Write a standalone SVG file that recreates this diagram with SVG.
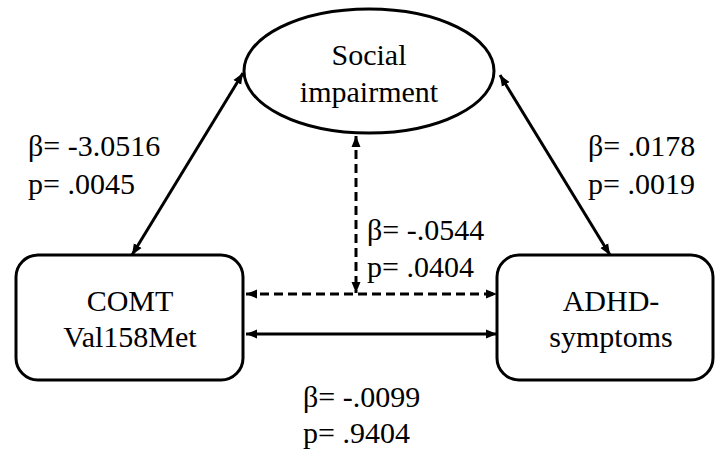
<svg xmlns="http://www.w3.org/2000/svg" width="716" height="454" viewBox="0 0 716 454">
<defs>
<marker id="ah" markerUnits="userSpaceOnUse" markerWidth="12" markerHeight="10" refX="11" refY="5" orient="auto-start-reverse">
<path d="M0,0.5 L11,5 L0,9.5 z" fill="#000"/>
</marker>
</defs>
<rect width="716" height="454" fill="#fff"/>
<g id="connectors" fill="none" stroke="#000" stroke-width="3">
<line x1="132" y1="255" x2="243" y2="73" marker-start="url(#ah)" marker-end="url(#ah)"/>
<line x1="610" y1="255" x2="500" y2="75" marker-start="url(#ah)" marker-end="url(#ah)"/>
<line stroke-dasharray="9 5" x1="356" y1="136" x2="356" y2="293" marker-start="url(#ah)" marker-end="url(#ah)"/>
<line stroke-dasharray="9 5" x1="246" y1="294" x2="497" y2="294" marker-start="url(#ah)" marker-end="url(#ah)"/>
<line x1="246" y1="334" x2="497" y2="334" marker-start="url(#ah)" marker-end="url(#ah)"/>
</g>
<g id="social">
<ellipse cx="369" cy="71" rx="125" ry="62" fill="#fff" stroke="#000" stroke-width="3"/>
<text x="369" y="65" font-family="Times New Roman" font-size="30" text-anchor="middle">Social</text>
<text x="369" y="102" font-family="Times New Roman" font-size="30" text-anchor="middle">impairment</text>
</g>
<g id="comt">
<rect x="16" y="255" width="227" height="125" rx="22" fill="#fff" stroke="#000" stroke-width="3"/>
<text x="130" y="311" font-family="Times New Roman" font-size="30" text-anchor="middle">COMT</text>
<text x="130" y="347" font-family="Times New Roman" font-size="30" text-anchor="middle">Val158Met</text>
</g>
<g id="adhd">
<rect x="497" y="255" width="216" height="125" rx="22" fill="#fff" stroke="#000" stroke-width="3"/>
<text x="611" y="311" font-family="Times New Roman" font-size="30" text-anchor="middle">ADHD-</text>
<text x="611" y="347" font-family="Times New Roman" font-size="30" text-anchor="middle">symptoms</text>
</g>
<g id="labels" font-family="Times New Roman" font-size="30">
<text x="28" y="156">β= -3.0516</text>
<text x="28" y="194">p= .0045</text>
<text x="588" y="156">β= .0178</text>
<text x="588" y="194">p= .0019</text>
<text x="367" y="240">β= -.0544</text>
<text x="367" y="277">p= .0404</text>
<text x="303" y="407">β= -.0099</text>
<text x="303" y="443">p= .9404</text>
</g>
</svg>
